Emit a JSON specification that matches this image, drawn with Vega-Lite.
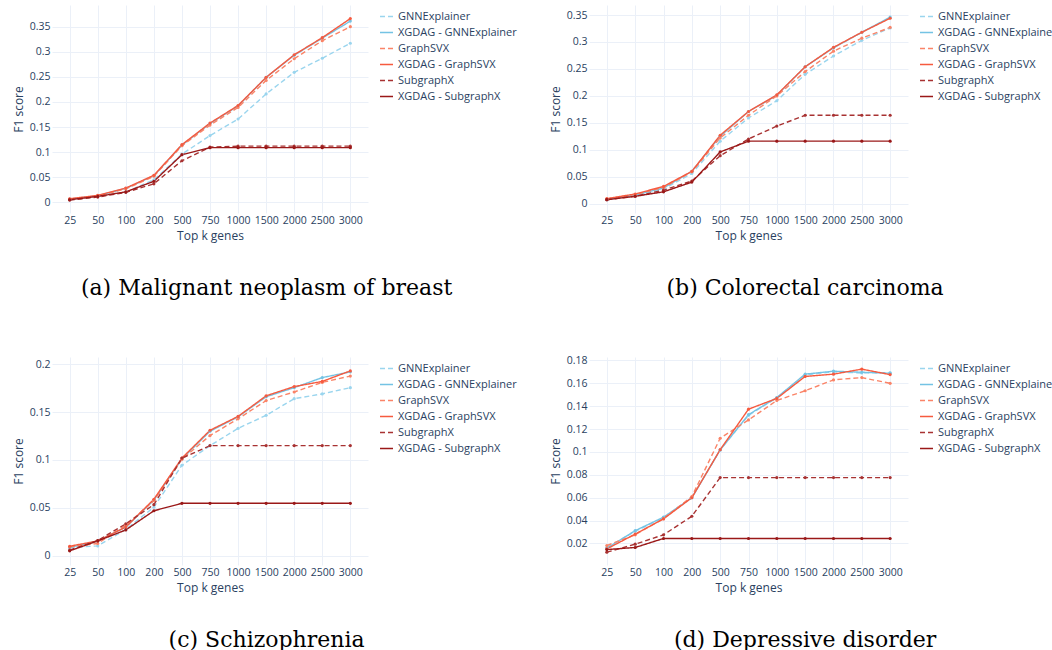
{
  "$schema": "https://vega.github.io/schema/vega-lite/v6.json",
  "padding": {"left": 12, "top": 5, "right": 5, "bottom": 5},
  "columns": 2,
  "align": "each",
  "spacing": {"row": 56, "column": 28},
  "data": {"values": [
    {"panel":"a","k":"25","method":"GNNExplainer","f1":0.0053},{"panel":"a","k":"50","method":"GNNExplainer","f1":0.012},{"panel":"a","k":"100","method":"GNNExplainer","f1":0.0205},{"panel":"a","k":"200","method":"GNNExplainer","f1":0.045},{"panel":"a","k":"500","method":"GNNExplainer","f1":0.096},{"panel":"a","k":"750","method":"GNNExplainer","f1":0.133},{"panel":"a","k":"1000","method":"GNNExplainer","f1":0.166},{"panel":"a","k":"1500","method":"GNNExplainer","f1":0.216},{"panel":"a","k":"2000","method":"GNNExplainer","f1":0.259},{"panel":"a","k":"2500","method":"GNNExplainer","f1":0.287},{"panel":"a","k":"3000","method":"GNNExplainer","f1":0.317},
    {"panel":"a","k":"25","method":"XGDAG - GNNExplainer","f1":0.0066},{"panel":"a","k":"50","method":"XGDAG - GNNExplainer","f1":0.0133},{"panel":"a","k":"100","method":"XGDAG - GNNExplainer","f1":0.028},{"panel":"a","k":"200","method":"XGDAG - GNNExplainer","f1":0.053},{"panel":"a","k":"500","method":"XGDAG - GNNExplainer","f1":0.114},{"panel":"a","k":"750","method":"XGDAG - GNNExplainer","f1":0.157},{"panel":"a","k":"1000","method":"XGDAG - GNNExplainer","f1":0.192},{"panel":"a","k":"1500","method":"XGDAG - GNNExplainer","f1":0.249},{"panel":"a","k":"2000","method":"XGDAG - GNNExplainer","f1":0.293},{"panel":"a","k":"2500","method":"XGDAG - GNNExplainer","f1":0.327},{"panel":"a","k":"3000","method":"XGDAG - GNNExplainer","f1":0.361},
    {"panel":"a","k":"25","method":"GraphSVX","f1":0.0066},{"panel":"a","k":"50","method":"GraphSVX","f1":0.0126},{"panel":"a","k":"100","method":"GraphSVX","f1":0.027},{"panel":"a","k":"200","method":"GraphSVX","f1":0.052},{"panel":"a","k":"500","method":"GraphSVX","f1":0.113},{"panel":"a","k":"750","method":"GraphSVX","f1":0.154},{"panel":"a","k":"1000","method":"GraphSVX","f1":0.189},{"panel":"a","k":"1500","method":"GraphSVX","f1":0.243},{"panel":"a","k":"2000","method":"GraphSVX","f1":0.286},{"panel":"a","k":"2500","method":"GraphSVX","f1":0.322},{"panel":"a","k":"3000","method":"GraphSVX","f1":0.35},
    {"panel":"a","k":"25","method":"XGDAG - GraphSVX","f1":0.0073},{"panel":"a","k":"50","method":"XGDAG - GraphSVX","f1":0.014},{"panel":"a","k":"100","method":"XGDAG - GraphSVX","f1":0.0285},{"panel":"a","k":"200","method":"XGDAG - GraphSVX","f1":0.054},{"panel":"a","k":"500","method":"XGDAG - GraphSVX","f1":0.115},{"panel":"a","k":"750","method":"XGDAG - GraphSVX","f1":0.158},{"panel":"a","k":"1000","method":"XGDAG - GraphSVX","f1":0.193},{"panel":"a","k":"1500","method":"XGDAG - GraphSVX","f1":0.249},{"panel":"a","k":"2000","method":"XGDAG - GraphSVX","f1":0.294},{"panel":"a","k":"2500","method":"XGDAG - GraphSVX","f1":0.328},{"panel":"a","k":"3000","method":"XGDAG - GraphSVX","f1":0.366},
    {"panel":"a","k":"25","method":"SubgraphX","f1":0.0046},{"panel":"a","k":"50","method":"SubgraphX","f1":0.0106},{"panel":"a","k":"100","method":"SubgraphX","f1":0.02},{"panel":"a","k":"200","method":"SubgraphX","f1":0.037},{"panel":"a","k":"500","method":"SubgraphX","f1":0.083},{"panel":"a","k":"750","method":"SubgraphX","f1":0.11},{"panel":"a","k":"1000","method":"SubgraphX","f1":0.112},{"panel":"a","k":"1500","method":"SubgraphX","f1":0.112},{"panel":"a","k":"2000","method":"SubgraphX","f1":0.112},{"panel":"a","k":"2500","method":"SubgraphX","f1":0.112},{"panel":"a","k":"3000","method":"SubgraphX","f1":0.112},
    {"panel":"a","k":"25","method":"XGDAG - SubgraphX","f1":0.0053},{"panel":"a","k":"50","method":"XGDAG - SubgraphX","f1":0.012},{"panel":"a","k":"100","method":"XGDAG - SubgraphX","f1":0.021},{"panel":"a","k":"200","method":"XGDAG - SubgraphX","f1":0.042},{"panel":"a","k":"500","method":"XGDAG - SubgraphX","f1":0.095},{"panel":"a","k":"750","method":"XGDAG - SubgraphX","f1":0.109},{"panel":"a","k":"1000","method":"XGDAG - SubgraphX","f1":0.109},{"panel":"a","k":"1500","method":"XGDAG - SubgraphX","f1":0.109},{"panel":"a","k":"2000","method":"XGDAG - SubgraphX","f1":0.109},{"panel":"a","k":"2500","method":"XGDAG - SubgraphX","f1":0.109},{"panel":"a","k":"3000","method":"XGDAG - SubgraphX","f1":0.109},

    {"panel":"b","k":"25","method":"GNNExplainer","f1":0.0074},{"panel":"b","k":"50","method":"GNNExplainer","f1":0.0149},{"panel":"b","k":"100","method":"GNNExplainer","f1":0.027},{"panel":"b","k":"200","method":"GNNExplainer","f1":0.056},{"panel":"b","k":"500","method":"GNNExplainer","f1":0.116},{"panel":"b","k":"750","method":"GNNExplainer","f1":0.159},{"panel":"b","k":"1000","method":"GNNExplainer","f1":0.191},{"panel":"b","k":"1500","method":"GNNExplainer","f1":0.24},{"panel":"b","k":"2000","method":"GNNExplainer","f1":0.274},{"panel":"b","k":"2500","method":"GNNExplainer","f1":0.303},{"panel":"b","k":"3000","method":"GNNExplainer","f1":0.326},
    {"panel":"b","k":"25","method":"XGDAG - GNNExplainer","f1":0.008},{"panel":"b","k":"50","method":"XGDAG - GNNExplainer","f1":0.016},{"panel":"b","k":"100","method":"XGDAG - GNNExplainer","f1":0.029},{"panel":"b","k":"200","method":"XGDAG - GNNExplainer","f1":0.06},{"panel":"b","k":"500","method":"XGDAG - GNNExplainer","f1":0.125},{"panel":"b","k":"750","method":"XGDAG - GNNExplainer","f1":0.171},{"panel":"b","k":"1000","method":"XGDAG - GNNExplainer","f1":0.201},{"panel":"b","k":"1500","method":"XGDAG - GNNExplainer","f1":0.254},{"panel":"b","k":"2000","method":"XGDAG - GNNExplainer","f1":0.289},{"panel":"b","k":"2500","method":"XGDAG - GNNExplainer","f1":0.318},{"panel":"b","k":"3000","method":"XGDAG - GNNExplainer","f1":0.346},
    {"panel":"b","k":"25","method":"GraphSVX","f1":0.0087},{"panel":"b","k":"50","method":"GraphSVX","f1":0.0168},{"panel":"b","k":"100","method":"GraphSVX","f1":0.03},{"panel":"b","k":"200","method":"GraphSVX","f1":0.059},{"panel":"b","k":"500","method":"GraphSVX","f1":0.122},{"panel":"b","k":"750","method":"GraphSVX","f1":0.164},{"panel":"b","k":"1000","method":"GraphSVX","f1":0.2},{"panel":"b","k":"1500","method":"GraphSVX","f1":0.245},{"panel":"b","k":"2000","method":"GraphSVX","f1":0.283},{"panel":"b","k":"2500","method":"GraphSVX","f1":0.307},{"panel":"b","k":"3000","method":"GraphSVX","f1":0.327},
    {"panel":"b","k":"25","method":"XGDAG - GraphSVX","f1":0.0093},{"panel":"b","k":"50","method":"XGDAG - GraphSVX","f1":0.018},{"panel":"b","k":"100","method":"XGDAG - GraphSVX","f1":0.032},{"panel":"b","k":"200","method":"XGDAG - GraphSVX","f1":0.06},{"panel":"b","k":"500","method":"XGDAG - GraphSVX","f1":0.127},{"panel":"b","k":"750","method":"XGDAG - GraphSVX","f1":0.171},{"panel":"b","k":"1000","method":"XGDAG - GraphSVX","f1":0.202},{"panel":"b","k":"1500","method":"XGDAG - GraphSVX","f1":0.254},{"panel":"b","k":"2000","method":"XGDAG - GraphSVX","f1":0.29},{"panel":"b","k":"2500","method":"XGDAG - GraphSVX","f1":0.318},{"panel":"b","k":"3000","method":"XGDAG - GraphSVX","f1":0.344},
    {"panel":"b","k":"25","method":"SubgraphX","f1":0.0074},{"panel":"b","k":"50","method":"SubgraphX","f1":0.0137},{"panel":"b","k":"100","method":"SubgraphX","f1":0.025},{"panel":"b","k":"200","method":"SubgraphX","f1":0.042},{"panel":"b","k":"500","method":"SubgraphX","f1":0.089},{"panel":"b","k":"750","method":"SubgraphX","f1":0.12},{"panel":"b","k":"1000","method":"SubgraphX","f1":0.144},{"panel":"b","k":"1500","method":"SubgraphX","f1":0.164},{"panel":"b","k":"2000","method":"SubgraphX","f1":0.164},{"panel":"b","k":"2500","method":"SubgraphX","f1":0.164},{"panel":"b","k":"3000","method":"SubgraphX","f1":0.164},
    {"panel":"b","k":"25","method":"XGDAG - SubgraphX","f1":0.0074},{"panel":"b","k":"50","method":"XGDAG - SubgraphX","f1":0.0137},{"panel":"b","k":"100","method":"XGDAG - SubgraphX","f1":0.022},{"panel":"b","k":"200","method":"XGDAG - SubgraphX","f1":0.04},{"panel":"b","k":"500","method":"XGDAG - SubgraphX","f1":0.096},{"panel":"b","k":"750","method":"XGDAG - SubgraphX","f1":0.116},{"panel":"b","k":"1000","method":"XGDAG - SubgraphX","f1":0.116},{"panel":"b","k":"1500","method":"XGDAG - SubgraphX","f1":0.116},{"panel":"b","k":"2000","method":"XGDAG - SubgraphX","f1":0.116},{"panel":"b","k":"2500","method":"XGDAG - SubgraphX","f1":0.116},{"panel":"b","k":"3000","method":"XGDAG - SubgraphX","f1":0.116},

    {"panel":"c","k":"25","method":"GNNExplainer","f1":0.0086},{"panel":"c","k":"50","method":"GNNExplainer","f1":0.0103},{"panel":"c","k":"100","method":"GNNExplainer","f1":0.0276},{"panel":"c","k":"200","method":"GNNExplainer","f1":0.0507},{"panel":"c","k":"500","method":"GNNExplainer","f1":0.0945},{"panel":"c","k":"750","method":"GNNExplainer","f1":0.115},{"panel":"c","k":"1000","method":"GNNExplainer","f1":0.133},{"panel":"c","k":"1500","method":"GNNExplainer","f1":0.1466},{"panel":"c","k":"2000","method":"GNNExplainer","f1":0.164},{"panel":"c","k":"2500","method":"GNNExplainer","f1":0.169},{"panel":"c","k":"3000","method":"GNNExplainer","f1":0.1755},
    {"panel":"c","k":"25","method":"XGDAG - GNNExplainer","f1":0.0086},{"panel":"c","k":"50","method":"XGDAG - GNNExplainer","f1":0.0155},{"panel":"c","k":"100","method":"XGDAG - GNNExplainer","f1":0.03},{"panel":"c","k":"200","method":"XGDAG - GNNExplainer","f1":0.058},{"panel":"c","k":"500","method":"XGDAG - GNNExplainer","f1":0.101},{"panel":"c","k":"750","method":"XGDAG - GNNExplainer","f1":0.13},{"panel":"c","k":"1000","method":"XGDAG - GNNExplainer","f1":0.145},{"panel":"c","k":"1500","method":"XGDAG - GNNExplainer","f1":0.166},{"panel":"c","k":"2000","method":"XGDAG - GNNExplainer","f1":0.1755},{"panel":"c","k":"2500","method":"XGDAG - GNNExplainer","f1":0.186},{"panel":"c","k":"3000","method":"XGDAG - GNNExplainer","f1":0.192},
    {"panel":"c","k":"25","method":"GraphSVX","f1":0.0093},{"panel":"c","k":"50","method":"GraphSVX","f1":0.0128},{"panel":"c","k":"100","method":"GraphSVX","f1":0.032},{"panel":"c","k":"200","method":"GraphSVX","f1":0.0576},{"panel":"c","k":"500","method":"GraphSVX","f1":0.1007},{"panel":"c","k":"750","method":"GraphSVX","f1":0.1255},{"panel":"c","k":"1000","method":"GraphSVX","f1":0.143},{"panel":"c","k":"1500","method":"GraphSVX","f1":0.162},{"panel":"c","k":"2000","method":"GraphSVX","f1":0.171},{"panel":"c","k":"2500","method":"GraphSVX","f1":0.181},{"panel":"c","k":"3000","method":"GraphSVX","f1":0.1876},
    {"panel":"c","k":"25","method":"XGDAG - GraphSVX","f1":0.01},{"panel":"c","k":"50","method":"XGDAG - GraphSVX","f1":0.0155},{"panel":"c","k":"100","method":"XGDAG - GraphSVX","f1":0.03},{"panel":"c","k":"200","method":"XGDAG - GraphSVX","f1":0.059},{"panel":"c","k":"500","method":"XGDAG - GraphSVX","f1":0.102},{"panel":"c","k":"750","method":"XGDAG - GraphSVX","f1":0.131},{"panel":"c","k":"1000","method":"XGDAG - GraphSVX","f1":0.1455},{"panel":"c","k":"1500","method":"XGDAG - GraphSVX","f1":0.167},{"panel":"c","k":"2000","method":"XGDAG - GraphSVX","f1":0.1766},{"panel":"c","k":"2500","method":"XGDAG - GraphSVX","f1":0.182},{"panel":"c","k":"3000","method":"XGDAG - GraphSVX","f1":0.193},
    {"panel":"c","k":"25","method":"SubgraphX","f1":0.0059},{"panel":"c","k":"50","method":"SubgraphX","f1":0.016},{"panel":"c","k":"100","method":"SubgraphX","f1":0.0334},{"panel":"c","k":"200","method":"SubgraphX","f1":0.0534},{"panel":"c","k":"500","method":"SubgraphX","f1":0.102},{"panel":"c","k":"750","method":"SubgraphX","f1":0.115},{"panel":"c","k":"1000","method":"SubgraphX","f1":0.115},{"panel":"c","k":"1500","method":"SubgraphX","f1":0.115},{"panel":"c","k":"2000","method":"SubgraphX","f1":0.115},{"panel":"c","k":"2500","method":"SubgraphX","f1":0.115},{"panel":"c","k":"3000","method":"SubgraphX","f1":0.115},
    {"panel":"c","k":"25","method":"XGDAG - SubgraphX","f1":0.0052},{"panel":"c","k":"50","method":"XGDAG - SubgraphX","f1":0.0155},{"panel":"c","k":"100","method":"XGDAG - SubgraphX","f1":0.027},{"panel":"c","k":"200","method":"XGDAG - SubgraphX","f1":0.047},{"panel":"c","k":"500","method":"XGDAG - SubgraphX","f1":0.0548},{"panel":"c","k":"750","method":"XGDAG - SubgraphX","f1":0.0548},{"panel":"c","k":"1000","method":"XGDAG - SubgraphX","f1":0.0548},{"panel":"c","k":"1500","method":"XGDAG - SubgraphX","f1":0.0548},{"panel":"c","k":"2000","method":"XGDAG - SubgraphX","f1":0.0548},{"panel":"c","k":"2500","method":"XGDAG - SubgraphX","f1":0.0548},{"panel":"c","k":"3000","method":"XGDAG - SubgraphX","f1":0.0548},

    {"panel":"d","k":"25","method":"GNNExplainer","f1":0.0165},{"panel":"d","k":"50","method":"GNNExplainer","f1":0.0306},{"panel":"d","k":"100","method":"GNNExplainer","f1":0.0424},{"panel":"d","k":"200","method":"GNNExplainer","f1":0.06},{"panel":"d","k":"500","method":"GNNExplainer","f1":0.1018},{"panel":"d","k":"750","method":"GNNExplainer","f1":0.132},{"panel":"d","k":"1000","method":"GNNExplainer","f1":0.1474},{"panel":"d","k":"1500","method":"GNNExplainer","f1":0.1674},{"panel":"d","k":"2000","method":"GNNExplainer","f1":0.17},{"panel":"d","k":"2500","method":"GNNExplainer","f1":0.169},{"panel":"d","k":"3000","method":"GNNExplainer","f1":0.1694},
    {"panel":"d","k":"25","method":"XGDAG - GNNExplainer","f1":0.0159},{"panel":"d","k":"50","method":"XGDAG - GNNExplainer","f1":0.0312},{"panel":"d","k":"100","method":"XGDAG - GNNExplainer","f1":0.043},{"panel":"d","k":"200","method":"XGDAG - GNNExplainer","f1":0.06},{"panel":"d","k":"500","method":"XGDAG - GNNExplainer","f1":0.1018},{"panel":"d","k":"750","method":"XGDAG - GNNExplainer","f1":0.1326},{"panel":"d","k":"1000","method":"XGDAG - GNNExplainer","f1":0.1476},{"panel":"d","k":"1500","method":"XGDAG - GNNExplainer","f1":0.168},{"panel":"d","k":"2000","method":"XGDAG - GNNExplainer","f1":0.1706},{"panel":"d","k":"2500","method":"XGDAG - GNNExplainer","f1":0.1697},{"panel":"d","k":"3000","method":"XGDAG - GNNExplainer","f1":0.1688},
    {"panel":"d","k":"25","method":"GraphSVX","f1":0.0182},{"panel":"d","k":"50","method":"GraphSVX","f1":0.0276},{"panel":"d","k":"100","method":"GraphSVX","f1":0.0418},{"panel":"d","k":"200","method":"GraphSVX","f1":0.061},{"panel":"d","k":"500","method":"GraphSVX","f1":0.112},{"panel":"d","k":"750","method":"GraphSVX","f1":0.128},{"panel":"d","k":"1000","method":"GraphSVX","f1":0.145},{"panel":"d","k":"1500","method":"GraphSVX","f1":0.1535},{"panel":"d","k":"2000","method":"GraphSVX","f1":0.163},{"panel":"d","k":"2500","method":"GraphSVX","f1":0.165},{"panel":"d","k":"3000","method":"GraphSVX","f1":0.16},
    {"panel":"d","k":"25","method":"XGDAG - GraphSVX","f1":0.0153},{"panel":"d","k":"50","method":"XGDAG - GraphSVX","f1":0.0282},{"panel":"d","k":"100","method":"XGDAG - GraphSVX","f1":0.0415},{"panel":"d","k":"200","method":"XGDAG - GraphSVX","f1":0.06},{"panel":"d","k":"500","method":"XGDAG - GraphSVX","f1":0.102},{"panel":"d","k":"750","method":"XGDAG - GraphSVX","f1":0.1374},{"panel":"d","k":"1000","method":"XGDAG - GraphSVX","f1":0.1468},{"panel":"d","k":"1500","method":"XGDAG - GraphSVX","f1":0.166},{"panel":"d","k":"2000","method":"XGDAG - GraphSVX","f1":0.168},{"panel":"d","k":"2500","method":"XGDAG - GraphSVX","f1":0.1724},{"panel":"d","k":"3000","method":"XGDAG - GraphSVX","f1":0.1676},
    {"panel":"d","k":"25","method":"SubgraphX","f1":0.0124},{"panel":"d","k":"50","method":"SubgraphX","f1":0.0194},{"panel":"d","k":"100","method":"SubgraphX","f1":0.0276},{"panel":"d","k":"200","method":"SubgraphX","f1":0.0438},{"panel":"d","k":"500","method":"SubgraphX","f1":0.0776},{"panel":"d","k":"750","method":"SubgraphX","f1":0.0776},{"panel":"d","k":"1000","method":"SubgraphX","f1":0.0776},{"panel":"d","k":"1500","method":"SubgraphX","f1":0.0776},{"panel":"d","k":"2000","method":"SubgraphX","f1":0.0776},{"panel":"d","k":"2500","method":"SubgraphX","f1":0.0776},{"panel":"d","k":"3000","method":"SubgraphX","f1":0.0776},
    {"panel":"d","k":"25","method":"XGDAG - SubgraphX","f1":0.0147},{"panel":"d","k":"50","method":"XGDAG - SubgraphX","f1":0.0165},{"panel":"d","k":"100","method":"XGDAG - SubgraphX","f1":0.0244},{"panel":"d","k":"200","method":"XGDAG - SubgraphX","f1":0.0244},{"panel":"d","k":"500","method":"XGDAG - SubgraphX","f1":0.0244},{"panel":"d","k":"750","method":"XGDAG - SubgraphX","f1":0.0244},{"panel":"d","k":"1000","method":"XGDAG - SubgraphX","f1":0.0244},{"panel":"d","k":"1500","method":"XGDAG - SubgraphX","f1":0.0244},{"panel":"d","k":"2000","method":"XGDAG - SubgraphX","f1":0.0244},{"panel":"d","k":"2500","method":"XGDAG - SubgraphX","f1":0.0244},{"panel":"d","k":"3000","method":"XGDAG - SubgraphX","f1":0.0244}
  ]},
  "concat": [
    {
      "width": 316, "height": 208,
      "title": {"text": "(a) Malignant neoplasm of breast"},
      "transform": [{"filter": "datum.panel === 'a'"}],
      "mark": {"type": "line", "strokeWidth": 1.4, "point": {"filled": true, "size": 10}},
      "encoding": {
        "x": {"field": "k", "type": "ordinal", "sort": ["25","50","100","200","500","750","1000","1500","2000","2500","3000"], "scale": {"type": "point", "padding": 0.63}, "axis": {"title": "Top k genes"}},
        "y": {"field": "f1", "type": "quantitative", "scale": {"domain": [-0.0211, 0.3931], "zero": false, "nice": false}, "axis": {"title": "F1 score", "values": [0, 0.05, 0.1, 0.15, 0.2, 0.25, 0.3, 0.35], "format": "~g"}},
        "color": {"field": "method", "type": "nominal", "scale": {"domain": ["GNNExplainer","XGDAG - GNNExplainer","GraphSVX","XGDAG - GraphSVX","SubgraphX","XGDAG - SubgraphX"], "range": ["#9ad5ee","#74c3e4","#fa8468","#f65a3f","#a83232","#9a1818"]}, "legend": {"title": null, "symbolType": "stroke"}},
        "strokeDash": {"field": "method", "type": "nominal", "scale": {"domain": ["GNNExplainer","XGDAG - GNNExplainer","GraphSVX","XGDAG - GraphSVX","SubgraphX","XGDAG - SubgraphX"], "range": [[5,3],[1,0],[5,3],[1,0],[5,3],[1,0]]}, "legend": {"title": null, "symbolType": "stroke"}}
      }
    },
    {
      "width": 319, "height": 208,
      "title": {"text": "(b) Colorectal carcinoma"},
      "transform": [{"filter": "datum.panel === 'b'"}],
      "mark": {"type": "line", "strokeWidth": 1.4, "point": {"filled": true, "size": 10}},
      "encoding": {
        "x": {"field": "k", "type": "ordinal", "sort": ["25","50","100","200","500","750","1000","1500","2000","2500","3000"], "scale": {"type": "point", "padding": 0.63}, "axis": {"title": "Top k genes"}},
        "y": {"field": "f1", "type": "quantitative", "scale": {"domain": [-0.0173, 0.3686], "zero": false, "nice": false}, "axis": {"title": "F1 score", "values": [0, 0.05, 0.1, 0.15, 0.2, 0.25, 0.3, 0.35], "format": "~g"}},
        "color": {"field": "method", "type": "nominal", "scale": {"domain": ["GNNExplainer","XGDAG - GNNExplainer","GraphSVX","XGDAG - GraphSVX","SubgraphX","XGDAG - SubgraphX"], "range": ["#9ad5ee","#74c3e4","#fa8468","#f65a3f","#a83232","#9a1818"]}, "legend": {"title": null, "symbolType": "stroke"}},
        "strokeDash": {"field": "method", "type": "nominal", "scale": {"domain": ["GNNExplainer","XGDAG - GNNExplainer","GraphSVX","XGDAG - GraphSVX","SubgraphX","XGDAG - SubgraphX"], "range": [[5,3],[1,0],[5,3],[1,0],[5,3],[1,0]]}, "legend": {"title": null, "symbolType": "stroke"}}
      }
    },
    {
      "width": 316, "height": 208,
      "title": {"text": "(c) Schizophrenia"},
      "transform": [{"filter": "datum.panel === 'c'"}],
      "mark": {"type": "line", "strokeWidth": 1.4, "point": {"filled": true, "size": 10}},
      "encoding": {
        "x": {"field": "k", "type": "ordinal", "sort": ["25","50","100","200","500","750","1000","1500","2000","2500","3000"], "scale": {"type": "point", "padding": 0.63}, "axis": {"title": "Top k genes"}},
        "y": {"field": "f1", "type": "quantitative", "scale": {"domain": [-0.0096, 0.2075], "zero": false, "nice": false}, "axis": {"title": "F1 score", "values": [0, 0.05, 0.1, 0.15, 0.2], "format": "~g"}},
        "color": {"field": "method", "type": "nominal", "scale": {"domain": ["GNNExplainer","XGDAG - GNNExplainer","GraphSVX","XGDAG - GraphSVX","SubgraphX","XGDAG - SubgraphX"], "range": ["#9ad5ee","#74c3e4","#fa8468","#f65a3f","#a83232","#9a1818"]}, "legend": {"title": null, "symbolType": "stroke"}},
        "strokeDash": {"field": "method", "type": "nominal", "scale": {"domain": ["GNNExplainer","XGDAG - GNNExplainer","GraphSVX","XGDAG - GraphSVX","SubgraphX","XGDAG - SubgraphX"], "range": [[5,3],[1,0],[5,3],[1,0],[5,3],[1,0]]}, "legend": {"title": null, "symbolType": "stroke"}}
      }
    },
    {
      "width": 319, "height": 208,
      "title": {"text": "(d) Depressive disorder"},
      "transform": [{"filter": "datum.panel === 'd'"}],
      "mark": {"type": "line", "strokeWidth": 1.4, "point": {"filled": true, "size": 10}},
      "encoding": {
        "x": {"field": "k", "type": "ordinal", "sort": ["25","50","100","200","500","750","1000","1500","2000","2500","3000"], "scale": {"type": "point", "padding": 0.63}, "axis": {"title": "Top k genes"}},
        "y": {"field": "f1", "type": "quantitative", "scale": {"domain": [0.0012, 0.183], "zero": false, "nice": false}, "axis": {"title": "F1 score", "values": [0.02, 0.04, 0.06, 0.08, 0.1, 0.12, 0.14, 0.16, 0.18], "format": "~g"}},
        "color": {"field": "method", "type": "nominal", "scale": {"domain": ["GNNExplainer","XGDAG - GNNExplainer","GraphSVX","XGDAG - GraphSVX","SubgraphX","XGDAG - SubgraphX"], "range": ["#9ad5ee","#74c3e4","#fa8468","#f65a3f","#a83232","#9a1818"]}, "legend": {"title": null, "symbolType": "stroke"}},
        "strokeDash": {"field": "method", "type": "nominal", "scale": {"domain": ["GNNExplainer","XGDAG - GNNExplainer","GraphSVX","XGDAG - GraphSVX","SubgraphX","XGDAG - SubgraphX"], "range": [[5,3],[1,0],[5,3],[1,0],[5,3],[1,0]]}, "legend": {"title": null, "symbolType": "stroke"}}
      }
    }
  ],
  "resolve": {
    "scale": {"x": "independent", "y": "independent", "color": "independent", "strokeDash": "independent"},
    "legend": {"color": "independent", "strokeDash": "independent"},
    "axis": {"x": "independent", "y": "independent"}
  },
  "config": {
    "view": {"stroke": null},
    "axis": {"domain": false, "ticks": false, "grid": true, "gridColor": "#EBF0F8", "gridWidth": 1, "labelFont": "Open Sans", "labelFontSize": 10.5, "labelColor": "#2a3f5f", "labelPadding": 2, "titleFont": "Open Sans", "titleFontSize": 12, "titleFontWeight": "normal", "titleColor": "#2a3f5f"},
    "axisX": {"labelAngle": 0, "titlePadding": 5},
    "axisY": {"titlePadding": 4},
    "legend": {"orient": "right", "offset": 7, "padding": 4, "labelFont": "Open Sans", "labelFontSize": 11, "labelColor": "#2a3f5f", "symbolType": "stroke", "symbolSize": 169, "symbolStrokeWidth": 1.5, "rowPadding": 3, "labelOffset": 4},
    "title": {"orient": "bottom", "anchor": "middle", "frame": "bounds", "font": "DejaVu Serif", "fontSize": 22, "fontWeight": "normal", "color": "#000000", "offset": 36}
  }
}
